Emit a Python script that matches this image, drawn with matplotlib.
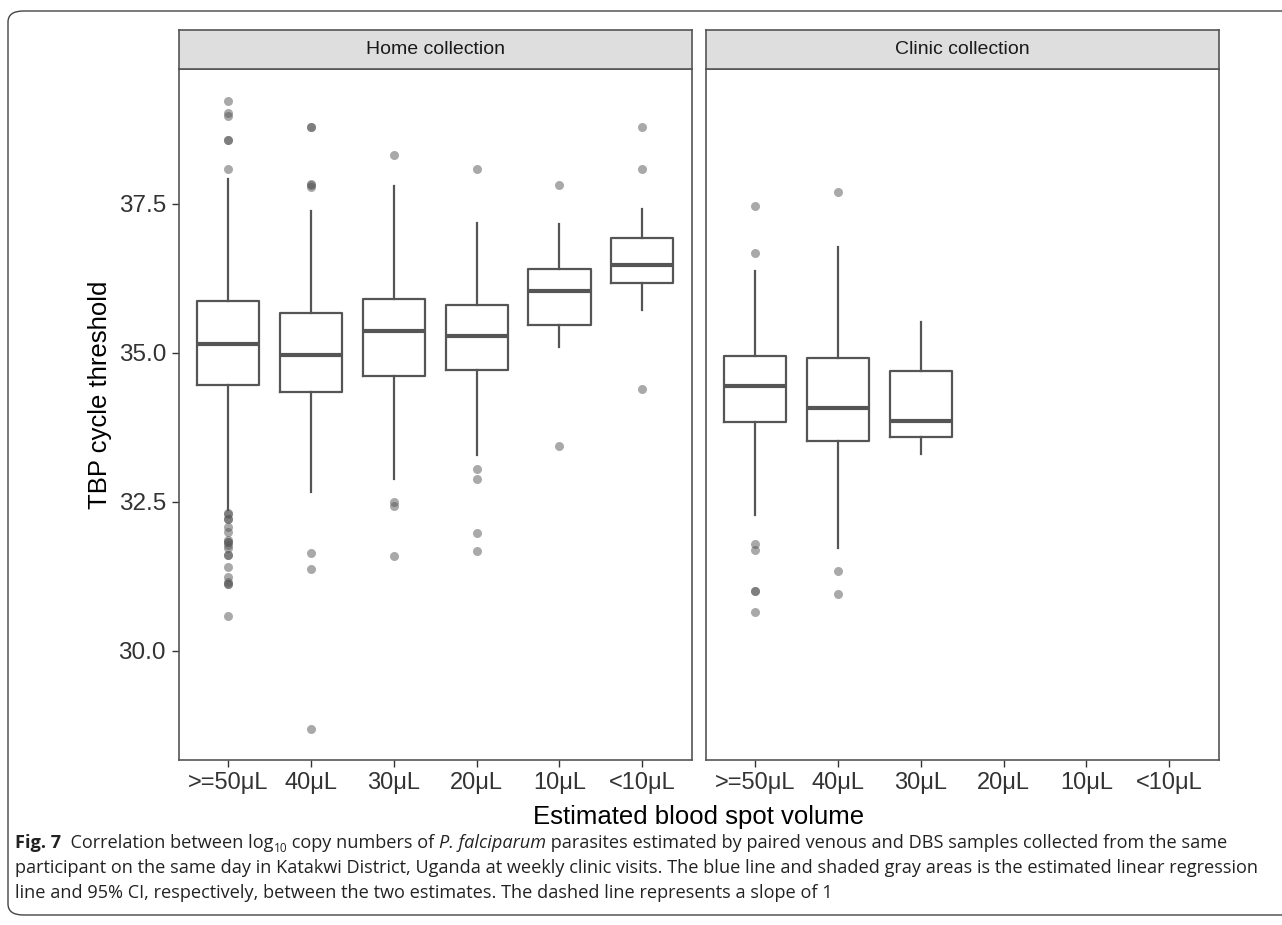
import matplotlib
matplotlib.use("Agg")
import matplotlib.pyplot as plt
from matplotlib import font_manager
from matplotlib.patches import FancyBboxPatch

# categorias e valores
volumes = [">=50\u03bcL", "40\u03bcL", "30\u03bcL", "20\u03bcL", "10\u03bcL", "<10\u03bcL"]
panels = ["Home collection", "Clinic collection"]

home_whislo = [32.36, 32.66, 32.88, 33.28, 35.09, 35.71]
home_q1 = [34.46, 34.34, 34.61, 34.71, 35.46, 36.17]
home_med = [35.14, 34.96, 35.37, 35.28, 36.04, 36.47]
home_q3 = [35.87, 35.67, 35.90, 35.80, 36.40, 36.92]
home_whishi = [37.91, 37.38, 37.80, 37.18, 37.16, 37.41]
home_fliers = [
    [39.23, 39.02, 38.97, 38.57, 38.57, 38.09,
     32.32, 32.30, 32.22, 32.22, 32.08, 31.99, 31.86, 31.82, 31.82, 31.77,
     31.72, 31.61, 31.61, 31.41, 31.24, 31.16, 31.12, 31.12, 30.58],
    [38.78, 38.78, 37.83, 37.81, 37.78, 31.65, 31.38, 28.69],
    [38.32, 32.50, 32.43, 31.59],
    [38.08, 33.05, 32.88, 31.98, 31.68],
    [37.82, 33.44],
    [38.78, 38.08, 34.39],
]

clinic_whislo = [32.28, 31.72, 33.30]
clinic_q1 = [33.84, 33.52, 33.58]
clinic_med = [34.45, 34.07, 33.86]
clinic_q3 = [34.95, 34.91, 34.70]
clinic_whishi = [36.37, 36.78, 35.51]
clinic_fliers = [
    [37.47, 36.67, 31.80, 31.70, 31.00, 31.00, 30.65],
    [37.69, 31.34, 30.95],
    [],
]

y_ticks = [30.0, 32.5, 35.0, 37.5]

caption_lines = [
    "participant on the same day in Katakwi District, Uganda at weekly clinic visits. "
    "The blue line and shaded gray areas is the estimated linear regression",
    "line and 95% CI, respectively, between the two estimates. The dashed line represents a slope of 1",
]

plt.rcParams['font.family'] = ['Liberation Sans', 'DejaVu Sans']

W, H = 1282, 925
fig = plt.figure(figsize=(W / 100, H / 100), dpi=100)


def px_rect(left, top, right, bottom):
    return [left / W, 1 - bottom / H, (right - left) / W, (bottom - top) / H]


def make_stats(whislo, q1, med, q3, whishi, fliers):
    stats = []
    for i in range(len(med)):
        stats.append(dict(whislo=whislo[i], q1=q1[i], med=med[i], q3=q3[i],
                          whishi=whishi[i], fliers=fliers[i]))
    return stats


box_color = '#555555'
panel_data = [
    make_stats(home_whislo, home_q1, home_med, home_q3, home_whishi, home_fliers),
    make_stats(clinic_whislo, clinic_q1, clinic_med, clinic_q3, clinic_whishi, clinic_fliers),
]
panel_x = [(178.5, 692.0), (705.5, 1219.0)]

for k, (x0, x1) in enumerate(panel_x):
    ax = fig.add_axes(px_rect(x0, 69, x1, 760))
    stats = panel_data[k]
    ax.bxp(stats, positions=list(range(1, len(stats) + 1)), widths=0.75,
           patch_artist=False, showcaps=False,
           boxprops=dict(color=box_color, linewidth=1.6),
           whiskerprops=dict(color=box_color, linewidth=1.6),
           medianprops=dict(color=box_color, linewidth=3.0, solid_capstyle='butt'),
           flierprops=dict(marker='o', markersize=6.5, markerfacecolor='#555555',
                           markeredgecolor='none', alpha=0.5))
    ax.set_xlim(0.4, 6.6)
    ax.set_ylim(28.17, 39.76)
    ax.set_xticks(range(1, 7))
    ax.set_xticklabels(volumes, fontsize=17, color='#333333')
    for s in ax.spines.values():
        s.set_color('#555555')
        s.set_linewidth(1.2)
    ax.tick_params(axis='both', length=5, width=1.0, color='#333333', pad=4)
    if k == 0:
        ax.set_yticks(y_ticks)
        ax.set_yticklabels(["%.1f" % v for v in y_ticks], fontsize=17.5, color='#333333')
    else:
        ax.set_yticks([])

    # bandeira do painel
    sax = fig.add_axes(px_rect(x0, 30, x1, 69))
    sax.set_facecolor('#DEDEDE')
    sax.set_xticks([])
    sax.set_yticks([])
    for s in sax.spines.values():
        s.set_color('#555555')
        s.set_linewidth(1.2)
    sax.text(0.5, 0.5, panels[k], ha='center', va='center', fontsize=14,
             color='#1A1A1A', transform=sax.transAxes)

fig.text(100 / W, 1 - 395 / H, "TBP cycle threshold", rotation=90,
         ha='center', va='center', fontsize=18.5, color='#000000')
fig.text(698.7 / W, 1 - 817 / H, "Estimated blood spot volume",
         ha='center', va='center', fontsize=18.5, color='#000000')

# moldura arredondada
frame = FancyBboxPatch((8 / W, 1 - 915 / H), 1.1, (915 - 11) / H,
                       boxstyle="round,pad=0,rounding_size=0.012",
                       transform=fig.transFigure, facecolor='none',
                       edgecolor='#444444', linewidth=1.0, clip_on=False)
fig.patches.append(frame)

# legenda da figura (texto em partes)
names = {f.name for f in font_manager.fontManager.ttflist}
cap_font = 'Liberation Sans Narrow' if 'Liberation Sans Narrow' in names else 'Open Sans'
cap_size = 13.05
renderer = fig.canvas.get_renderer()
x = 15
y1 = 1 - 843 / H
pieces = [
    ("Fig. 7", dict(weight='bold')),
    ("  Correlation between log", {}),
    ("10", dict(size=cap_size * 0.65, dy=-5)),
    (" copy numbers of ", {}),
    ("P. falciparum", dict(style='italic')),
    (" parasites estimated by paired venous and DBS samples collected from the same", {}),
]
for txt, opts in pieces:
    opts = dict(opts)
    dy = opts.pop('dy', 0)
    size = opts.pop('size', cap_size)
    t = fig.text(x / W, y1 + (dy / H), txt, ha='left', va='center', family=cap_font,
                 fontsize=size, color='#222222', **opts)
    bb = t.get_window_extent(renderer=renderer)
    x += bb.width

for i, line in enumerate(caption_lines):
    fig.text(15 / W, 1 - (868 + 25 * i) / H, line, ha='left', va='center',
             family=cap_font, fontsize=cap_size, color='#222222')

fig.savefig("out.png", dpi=100)
